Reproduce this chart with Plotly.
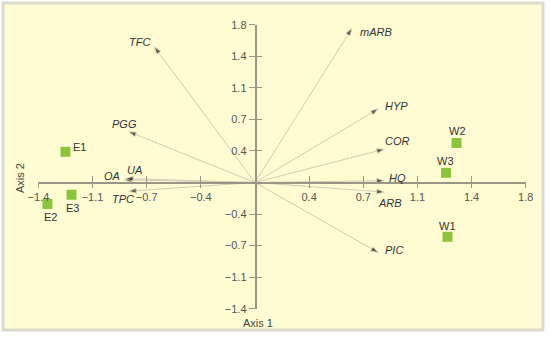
import plotly.graph_objects as go

# ---- data ----
var_names = ["TFC", "PGG", "mARB", "HYP", "COR", "HQ", "ARB", "PIC", "OA", "UA", "TPC"]
var_x = [-0.67, -0.84, 0.645, 0.82, 0.86, 0.86, 0.86, 0.82, -0.87, -0.86, -0.84]
var_y = [1.55, 0.58, 1.76, 0.84, 0.38, 0.02, -0.11, -0.80, 0.03, 0.045, -0.10]

site_names = ["E1", "E2", "E3", "W1", "W2", "W3"]
site_x = [-1.26, -1.38, -1.22, 1.28, 1.34, 1.27]
site_y = [0.35, -0.245, -0.14, -0.62, 0.45, 0.11]

tick_vals = [-1.44, -1.08, -0.72, -0.36, 0.36, 0.72, 1.08, 1.44, 1.80]
tick_text = ["\u22121.4", "\u22121.1", "\u22120.7", "\u22120.4", "0.4", "0.7", "1.1", "1.4", "1.8"]
axis_range = [-1.44, 1.80]

# label offsets (pixels) relative to vector tips
var_shift = {
    "TFC": (-15, 5), "PGG": (-4, 8), "mARB": (24, -4), "HYP": (18, 3),
    "COR": (13, 8), "HQ": (13, 3), "ARB": (6, -11), "PIC": (16, 3),
    "OA": (-12, 4), "UA": (9, 9), "TPC": (-6, -8),
}
site_shift = {
    "E1": (14, 5), "E2": (3, -13), "E3": (1, -13), "W1": (0, 11),
    "W2": (1, 12), "W3": (0, 12),
}

W, H = 550, 343
FONT = "Liberation Sans, Arial, sans-serif"
LINE_C = "#d2ccb3"
AXIS_C = "#9b9585"
GREEN = "#8cc43c"

fig = go.Figure()

for name, vx, vy in zip(var_names, var_x, var_y):
    fig.add_trace(go.Scatter(
        x=[0, vx], y=[0, vy], mode="lines+markers",
        line=dict(color=LINE_C, width=1),
        marker=dict(symbol="arrow", size=[0, 8], angleref="previous", color="#1a1a1a"),
        hoverinfo="skip", showlegend=False, cliponaxis=False,
    ))

fig.add_trace(go.Scatter(
    x=site_x, y=site_y, mode="markers",
    marker=dict(symbol="square", size=10, color=GREEN),
    showlegend=False, cliponaxis=False,
))

# empty trace to activate overlay axes (ticks on the other side)
fig.add_trace(go.Scatter(x=[], y=[], xaxis="x2", yaxis="y2", showlegend=False))

for name, vx, vy in zip(var_names, var_x, var_y):
    dx, dy = var_shift[name]
    fig.add_annotation(x=vx, y=vy, xref="x", yref="y", text=f"<i>{name}</i>",
                       showarrow=False, xshift=dx, yshift=dy,
                       xanchor="center", yanchor="middle",
                       font=dict(family=FONT, size=11, color="#333333"))
for name, sx, sy in zip(site_names, site_x, site_y):
    dx, dy = site_shift[name]
    fig.add_annotation(x=sx, y=sy, xref="x", yref="y", text=name,
                       showarrow=False, xshift=dx, yshift=dy,
                       xanchor="center", yanchor="middle",
                       font=dict(family=FONT, size=11, color="#333333"))

# axis titles
fig.add_annotation(x=258 / W, y=1 - 323 / H, xref="paper", yref="paper", text="Axis 1",
                   xanchor="center", yanchor="middle",
                   showarrow=False, font=dict(family=FONT, size=11, color="#444444"))
fig.add_annotation(x=20 / W, y=1 - 178 / H, xref="paper", yref="paper", text="Axis 2",
                   xanchor="center", yanchor="middle",
                   textangle=-90, showarrow=False, font=dict(family=FONT, size=11, color="#444444"))

# panel
fig.add_shape(type="rect", xref="paper", yref="paper", x0=3 / W, x1=543 / W,
              y0=1 - 330 / H, y1=1 - 3 / H, line=dict(color="#dcdacb", width=3),
              fillcolor="#fffcd4", layer="below")

xdom = [38.4 / W, 525.7 / W]
ydom = [1 - 308.7 / H, 1 - 24.7 / H]
xpos = 1 - 182.5 / H
ypos = 255.5 / W

common = dict(range=axis_range, tickvals=tick_vals, showgrid=False, zeroline=False,
              showline=True, linecolor=AXIS_C, linewidth=1.5, tickcolor=AXIS_C,
              tickwidth=1, fixedrange=True, automargin=False)

fig.update_layout(
    template="none",
    width=W, height=H, margin=dict(l=0, r=0, t=0, b=0, pad=0, autoexpand=False),
    paper_bgcolor="white", plot_bgcolor="rgba(0,0,0,0)",
    xaxis=dict(domain=xdom, anchor="free", position=xpos, ticks="outside", ticklen=5,
               ticktext=tick_text, tickfont=dict(family=FONT, size=11, color="#555555"),
               **common),
    xaxis2=dict(domain=xdom, anchor="free", position=xpos, overlaying="x", ticks="inside",
                ticklen=6, showticklabels=False, **common),
    yaxis=dict(domain=ydom, anchor="free", position=ypos, ticks="outside", ticklen=6,
               ticktext=tick_text, tickfont=dict(family=FONT, size=11, color="#555555"),
               **common),
    yaxis2=dict(domain=ydom, anchor="free", position=ypos, overlaying="y", ticks="inside",
                ticklen=6, showticklabels=False, **common),
)

fig.write_html("out.html", config={"displayModeBar": False},
               post_script="document.body.style.margin='0';document.body.style.overflow='hidden';")
